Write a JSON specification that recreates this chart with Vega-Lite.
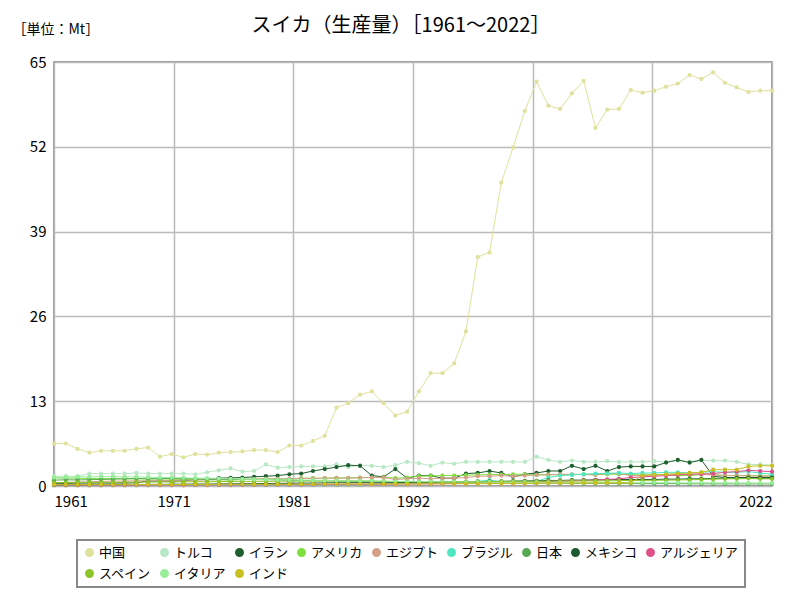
{
"$schema":"https://vega.github.io/schema/vega-lite/v6.json",
"width":718,"height":424,
"autosize":{"type":"none"},
"padding":{"left":54,"top":62,"right":28,"bottom":114},
"background":"white",
"title":{"text":"スイカ（生産量）［1961～2022］","font":"Noto Sans CJK JP","fontSize":20,"fontWeight":"normal","color":"#000","anchor":"middle","dx":-12,"dy":36,"offset":22},
"config":{"view":{"stroke":"#777","strokeWidth":1.5},"font":"Noto Sans CJK JP","legend":{"strokeWidth":2,"gridAlign":"none"}},
"datasets":{"d":[
{"c":"中国","y":1961,"v":6.5},{"c":"中国","y":1962,"v":6.5},{"c":"中国","y":1963,"v":5.7},{"c":"中国","y":1964,"v":5.1},{"c":"中国","y":1965,"v":5.4},{"c":"中国","y":1966,"v":5.4},{"c":"中国","y":1967,"v":5.4},{"c":"中国","y":1968,"v":5.7},{"c":"中国","y":1969,"v":5.9},{"c":"中国","y":1970,"v":4.5},
{"c":"中国","y":1971,"v":4.9},{"c":"中国","y":1972,"v":4.4},{"c":"中国","y":1973,"v":4.9},{"c":"中国","y":1974,"v":4.8},{"c":"中国","y":1975,"v":5.1},{"c":"中国","y":1976,"v":5.2},{"c":"中国","y":1977,"v":5.3},{"c":"中国","y":1978,"v":5.5},{"c":"中国","y":1979,"v":5.5},{"c":"中国","y":1980,"v":5.2},
{"c":"中国","y":1981,"v":6.2},{"c":"中国","y":1982,"v":6.2},{"c":"中国","y":1983,"v":6.9},{"c":"中国","y":1984,"v":7.7},{"c":"中国","y":1985,"v":12.0},{"c":"中国","y":1986,"v":12.7},{"c":"中国","y":1987,"v":14.0},{"c":"中国","y":1988,"v":14.5},{"c":"中国","y":1989,"v":12.7},{"c":"中国","y":1990,"v":10.8},
{"c":"中国","y":1991,"v":11.4},{"c":"中国","y":1992,"v":14.5},{"c":"中国","y":1993,"v":17.3},{"c":"中国","y":1994,"v":17.3},{"c":"中国","y":1995,"v":18.8},{"c":"中国","y":1996,"v":23.7},{"c":"中国","y":1997,"v":35.1},{"c":"中国","y":1998,"v":35.8},{"c":"中国","y":1999,"v":46.5},{"c":"中国","y":2000,"v":51.9},
{"c":"中国","y":2001,"v":57.5},{"c":"中国","y":2002,"v":62.0},{"c":"中国","y":2003,"v":58.3},{"c":"中国","y":2004,"v":57.8},{"c":"中国","y":2005,"v":60.2},{"c":"中国","y":2006,"v":62.1},{"c":"中国","y":2007,"v":54.9},{"c":"中国","y":2008,"v":57.7},{"c":"中国","y":2009,"v":57.8},{"c":"中国","y":2010,"v":60.7},
{"c":"中国","y":2011,"v":60.3},{"c":"中国","y":2012,"v":60.6},{"c":"中国","y":2013,"v":61.2},{"c":"中国","y":2014,"v":61.7},{"c":"中国","y":2015,"v":63.0},{"c":"中国","y":2016,"v":62.4},{"c":"中国","y":2017,"v":63.4},{"c":"中国","y":2018,"v":61.8},{"c":"中国","y":2019,"v":61.1},{"c":"中国","y":2020,"v":60.4},
{"c":"中国","y":2021,"v":60.6},{"c":"中国","y":2022,"v":60.6},
{"c":"トルコ","y":1961,"v":1.5},{"c":"トルコ","y":1962,"v":1.5},{"c":"トルコ","y":1963,"v":1.5},{"c":"トルコ","y":1964,"v":1.9},{"c":"トルコ","y":1965,"v":1.9},{"c":"トルコ","y":1966,"v":1.9},{"c":"トルコ","y":1967,"v":1.9},{"c":"トルコ","y":1968,"v":2.0},{"c":"トルコ","y":1969,"v":1.9},{"c":"トルコ","y":1970,"v":1.9},
{"c":"トルコ","y":1971,"v":1.9},{"c":"トルコ","y":1972,"v":1.9},{"c":"トルコ","y":1973,"v":1.8},{"c":"トルコ","y":1974,"v":2.1},{"c":"トルコ","y":1975,"v":2.4},{"c":"トルコ","y":1976,"v":2.7},{"c":"トルコ","y":1977,"v":2.2},{"c":"トルコ","y":1978,"v":2.3},{"c":"トルコ","y":1979,"v":3.3},{"c":"トルコ","y":1980,"v":2.8},
{"c":"トルコ","y":1981,"v":2.9},{"c":"トルコ","y":1982,"v":3.0},{"c":"トルコ","y":1983,"v":3.0},{"c":"トルコ","y":1984,"v":3.0},{"c":"トルコ","y":1985,"v":3.3},{"c":"トルコ","y":1986,"v":2.9},{"c":"トルコ","y":1987,"v":3.2},{"c":"トルコ","y":1988,"v":3.1},{"c":"トルコ","y":1989,"v":2.9},{"c":"トルコ","y":1990,"v":3.2},
{"c":"トルコ","y":1991,"v":3.7},{"c":"トルコ","y":1992,"v":3.5},{"c":"トルコ","y":1993,"v":3.1},{"c":"トルコ","y":1994,"v":3.6},{"c":"トルコ","y":1995,"v":3.4},{"c":"トルコ","y":1996,"v":3.7},{"c":"トルコ","y":1997,"v":3.7},{"c":"トルコ","y":1998,"v":3.7},{"c":"トルコ","y":1999,"v":3.7},{"c":"トルコ","y":2000,"v":3.7},
{"c":"トルコ","y":2001,"v":3.7},{"c":"トルコ","y":2002,"v":4.5},{"c":"トルコ","y":2003,"v":4.0},{"c":"トルコ","y":2004,"v":3.7},{"c":"トルコ","y":2005,"v":3.9},{"c":"トルコ","y":2006,"v":3.7},{"c":"トルコ","y":2007,"v":3.7},{"c":"トルコ","y":2008,"v":3.8},{"c":"トルコ","y":2009,"v":3.7},{"c":"トルコ","y":2010,"v":3.7},
{"c":"トルコ","y":2011,"v":3.7},{"c":"トルコ","y":2012,"v":3.8},{"c":"トルコ","y":2013,"v":3.7},{"c":"トルコ","y":2014,"v":3.9},{"c":"トルコ","y":2015,"v":3.7},{"c":"トルコ","y":2016,"v":3.9},{"c":"トルコ","y":2017,"v":3.9},{"c":"トルコ","y":2018,"v":3.9},{"c":"トルコ","y":2019,"v":3.7},{"c":"トルコ","y":2020,"v":3.3},
{"c":"トルコ","y":2021,"v":3.3},{"c":"トルコ","y":2022,"v":3.2},
{"c":"イラン","y":1961,"v":0.4},{"c":"イラン","y":1962,"v":0.4},{"c":"イラン","y":1963,"v":0.45},{"c":"イラン","y":1964,"v":0.45},{"c":"イラン","y":1965,"v":0.45},{"c":"イラン","y":1966,"v":0.45},{"c":"イラン","y":1967,"v":0.45},{"c":"イラン","y":1968,"v":0.5},{"c":"イラン","y":1969,"v":0.75},{"c":"イラン","y":1970,"v":0.75},
{"c":"イラン","y":1971,"v":0.75},{"c":"イラン","y":1972,"v":0.8},{"c":"イラン","y":1973,"v":1.0},{"c":"イラン","y":1974,"v":1.05},{"c":"イラン","y":1975,"v":1.2},{"c":"イラン","y":1976,"v":1.25},{"c":"イラン","y":1977,"v":1.3},{"c":"イラン","y":1978,"v":1.4},{"c":"イラン","y":1979,"v":1.5},{"c":"イラン","y":1980,"v":1.6},
{"c":"イラン","y":1981,"v":1.8},{"c":"イラン","y":1982,"v":1.9},{"c":"イラン","y":1983,"v":2.3},{"c":"イラン","y":1984,"v":2.6},{"c":"イラン","y":1985,"v":2.9},{"c":"イラン","y":1986,"v":3.2},{"c":"イラン","y":1987,"v":3.1},{"c":"イラン","y":1988,"v":1.6},{"c":"イラン","y":1989,"v":1.4},{"c":"イラン","y":1990,"v":2.6},
{"c":"イラン","y":1991,"v":1.2},{"c":"イラン","y":1992,"v":1.6},{"c":"イラン","y":1993,"v":1.6},{"c":"イラン","y":1994,"v":1.2},{"c":"イラン","y":1995,"v":1.2},{"c":"イラン","y":1996,"v":1.9},{"c":"イラン","y":1997,"v":2.0},{"c":"イラン","y":1998,"v":2.3},{"c":"イラン","y":1999,"v":2.0},{"c":"イラン","y":2000,"v":1.4},
{"c":"イラン","y":2001,"v":1.8},{"c":"イラン","y":2002,"v":2.0},{"c":"イラン","y":2003,"v":2.3},{"c":"イラン","y":2004,"v":2.3},{"c":"イラン","y":2005,"v":3.1},{"c":"イラン","y":2006,"v":2.6},{"c":"イラン","y":2007,"v":3.1},{"c":"イラン","y":2008,"v":2.3},{"c":"イラン","y":2009,"v":2.9},{"c":"イラン","y":2010,"v":3.0},
{"c":"イラン","y":2011,"v":3.0},{"c":"イラン","y":2012,"v":3.0},{"c":"イラン","y":2013,"v":3.6},{"c":"イラン","y":2014,"v":4.0},{"c":"イラン","y":2015,"v":3.6},{"c":"イラン","y":2016,"v":4.0},{"c":"イラン","y":2017,"v":1.5},{"c":"イラン","y":2018,"v":1.3},{"c":"イラン","y":2019,"v":1.3},{"c":"イラン","y":2020,"v":1.3},
{"c":"イラン","y":2021,"v":1.2},{"c":"イラン","y":2022,"v":1.2},
{"c":"アメリカ","y":1961,"v":1.25},{"c":"アメリカ","y":1962,"v":1.2},{"c":"アメリカ","y":1963,"v":1.2},{"c":"アメリカ","y":1964,"v":1.15},{"c":"アメリカ","y":1965,"v":1.15},{"c":"アメリカ","y":1966,"v":1.15},{"c":"アメリカ","y":1967,"v":1.1},{"c":"アメリカ","y":1968,"v":1.1},{"c":"アメリカ","y":1969,"v":1.1},{"c":"アメリカ","y":1970,"v":1.1},
{"c":"アメリカ","y":1971,"v":1.05},{"c":"アメリカ","y":1972,"v":1.0},{"c":"アメリカ","y":1973,"v":1.0},{"c":"アメリカ","y":1974,"v":0.95},{"c":"アメリカ","y":1975,"v":0.95},{"c":"アメリカ","y":1976,"v":0.9},{"c":"アメリカ","y":1977,"v":1.0},{"c":"アメリカ","y":1978,"v":1.05},{"c":"アメリカ","y":1979,"v":1.1},{"c":"アメリカ","y":1980,"v":1.1},
{"c":"アメリカ","y":1981,"v":1.1},{"c":"アメリカ","y":1982,"v":1.2},{"c":"アメリカ","y":1983,"v":1.2},{"c":"アメリカ","y":1984,"v":1.2},{"c":"アメリカ","y":1985,"v":1.25},{"c":"アメリカ","y":1986,"v":1.25},{"c":"アメリカ","y":1987,"v":1.3},{"c":"アメリカ","y":1988,"v":1.3},{"c":"アメリカ","y":1989,"v":1.35},{"c":"アメリカ","y":1990,"v":1.2},
{"c":"アメリカ","y":1991,"v":1.3},{"c":"アメリカ","y":1992,"v":1.5},{"c":"アメリカ","y":1993,"v":1.55},{"c":"アメリカ","y":1994,"v":1.6},{"c":"アメリカ","y":1995,"v":1.6},{"c":"アメリカ","y":1996,"v":1.65},{"c":"アメリカ","y":1997,"v":1.7},{"c":"アメリカ","y":1998,"v":1.75},{"c":"アメリカ","y":1999,"v":1.75},{"c":"アメリカ","y":2000,"v":1.8},
{"c":"アメリカ","y":2001,"v":1.8},{"c":"アメリカ","y":2002,"v":1.7},{"c":"アメリカ","y":2003,"v":1.75},{"c":"アメリカ","y":2004,"v":1.7},{"c":"アメリカ","y":2005,"v":1.75},{"c":"アメリカ","y":2006,"v":1.8},{"c":"アメリカ","y":2007,"v":1.75},{"c":"アメリカ","y":2008,"v":1.8},{"c":"アメリカ","y":2009,"v":1.8},{"c":"アメリカ","y":2010,"v":1.75},
{"c":"アメリカ","y":2011,"v":1.7},{"c":"アメリカ","y":2012,"v":1.75},{"c":"アメリカ","y":2013,"v":1.7},{"c":"アメリカ","y":2014,"v":1.6},{"c":"アメリカ","y":2015,"v":1.6},{"c":"アメリカ","y":2016,"v":1.75},{"c":"アメリカ","y":2017,"v":1.75},{"c":"アメリカ","y":2018,"v":1.6},{"c":"アメリカ","y":2019,"v":1.6},{"c":"アメリカ","y":2020,"v":1.6},
{"c":"アメリカ","y":2021,"v":1.6},{"c":"アメリカ","y":2022,"v":1.55},
{"c":"エジプト","y":1961,"v":0.5},{"c":"エジプト","y":1962,"v":0.55},{"c":"エジプト","y":1963,"v":0.6},{"c":"エジプト","y":1964,"v":0.65},{"c":"エジプト","y":1965,"v":0.7},{"c":"エジプト","y":1966,"v":0.75},{"c":"エジプト","y":1967,"v":0.75},{"c":"エジプト","y":1968,"v":0.8},{"c":"エジプト","y":1969,"v":0.8},{"c":"エジプト","y":1970,"v":0.85},
{"c":"エジプト","y":1971,"v":0.85},{"c":"エジプト","y":1972,"v":0.9},{"c":"エジプト","y":1973,"v":0.9},{"c":"エジプト","y":1974,"v":0.95},{"c":"エジプト","y":1975,"v":1.0},{"c":"エジプト","y":1976,"v":1.0},{"c":"エジプト","y":1977,"v":1.05},{"c":"エジプト","y":1978,"v":1.05},{"c":"エジプト","y":1979,"v":1.1},{"c":"エジプト","y":1980,"v":1.1},
{"c":"エジプト","y":1981,"v":1.1},{"c":"エジプト","y":1982,"v":1.15},{"c":"エジプト","y":1983,"v":1.15},{"c":"エジプト","y":1984,"v":1.2},{"c":"エジプト","y":1985,"v":1.2},{"c":"エジプト","y":1986,"v":1.2},{"c":"エジプト","y":1987,"v":1.25},{"c":"エジプト","y":1988,"v":1.3},{"c":"エジプト","y":1989,"v":1.3},{"c":"エジプト","y":1990,"v":1.0},
{"c":"エジプト","y":1991,"v":1.1},{"c":"エジプト","y":1992,"v":1.2},{"c":"エジプト","y":1993,"v":1.1},{"c":"エジプト","y":1994,"v":1.2},{"c":"エジプト","y":1995,"v":1.2},{"c":"エジプト","y":1996,"v":1.3},{"c":"エジプト","y":1997,"v":1.5},{"c":"エジプト","y":1998,"v":1.5},{"c":"エジプト","y":1999,"v":1.6},{"c":"エジプト","y":2000,"v":1.5},
{"c":"エジプト","y":2001,"v":1.6},{"c":"エジプト","y":2002,"v":1.7},{"c":"エジプト","y":2003,"v":1.7},{"c":"エジプト","y":2004,"v":1.8},{"c":"エジプト","y":2005,"v":1.8},{"c":"エジプト","y":2006,"v":1.75},{"c":"エジプト","y":2007,"v":1.7},{"c":"エジプト","y":2008,"v":1.9},{"c":"エジプト","y":2009,"v":1.9},{"c":"エジプト","y":2010,"v":1.6},
{"c":"エジプト","y":2011,"v":1.6},{"c":"エジプト","y":2012,"v":1.7},{"c":"エジプト","y":2013,"v":1.8},{"c":"エジプト","y":2014,"v":1.75},{"c":"エジプト","y":2015,"v":1.8},{"c":"エジプト","y":2016,"v":1.8},{"c":"エジプト","y":2017,"v":1.7},{"c":"エジプト","y":2018,"v":1.6},{"c":"エジプト","y":2019,"v":1.6},{"c":"エジプト","y":2020,"v":1.55},
{"c":"エジプト","y":2021,"v":1.5},{"c":"エジプト","y":2022,"v":1.5},
{"c":"ブラジル","y":1961,"v":0.1},{"c":"ブラジル","y":1962,"v":0.1},{"c":"ブラジル","y":1963,"v":0.1},{"c":"ブラジル","y":1964,"v":0.11},{"c":"ブラジル","y":1965,"v":0.11},{"c":"ブラジル","y":1966,"v":0.12},{"c":"ブラジル","y":1967,"v":0.12},{"c":"ブラジル","y":1968,"v":0.12},{"c":"ブラジル","y":1969,"v":0.13},{"c":"ブラジル","y":1970,"v":0.13},
{"c":"ブラジル","y":1971,"v":0.13},{"c":"ブラジル","y":1972,"v":0.14},{"c":"ブラジル","y":1973,"v":0.14},{"c":"ブラジル","y":1974,"v":0.15},{"c":"ブラジル","y":1975,"v":0.15},{"c":"ブラジル","y":1976,"v":0.15},{"c":"ブラジル","y":1977,"v":0.16},{"c":"ブラジル","y":1978,"v":0.16},{"c":"ブラジル","y":1979,"v":0.17},{"c":"ブラジル","y":1980,"v":0.17},
{"c":"ブラジル","y":1981,"v":0.18},{"c":"ブラジル","y":1982,"v":0.18},{"c":"ブラジル","y":1983,"v":0.19},{"c":"ブラジル","y":1984,"v":0.19},{"c":"ブラジル","y":1985,"v":0.2},{"c":"ブラジル","y":1986,"v":0.2},{"c":"ブラジル","y":1987,"v":0.21},{"c":"ブラジル","y":1988,"v":0.3},{"c":"ブラジル","y":1989,"v":0.35},{"c":"ブラジル","y":1990,"v":0.35},
{"c":"ブラジル","y":1991,"v":0.4},{"c":"ブラジル","y":1992,"v":0.4},{"c":"ブラジル","y":1993,"v":0.4},{"c":"ブラジル","y":1994,"v":0.4},{"c":"ブラジル","y":1995,"v":0.4},{"c":"ブラジル","y":1996,"v":0.45},{"c":"ブラジル","y":1997,"v":0.7},{"c":"ブラジル","y":1998,"v":0.9},{"c":"ブラジル","y":1999,"v":0.6},{"c":"ブラジル","y":2000,"v":0.6},
{"c":"ブラジル","y":2001,"v":0.65},{"c":"ブラジル","y":2002,"v":0.7},{"c":"ブラジル","y":2003,"v":1.3},{"c":"ブラジル","y":2004,"v":1.6},{"c":"ブラジル","y":2005,"v":1.7},{"c":"ブラジル","y":2006,"v":1.8},{"c":"ブラジル","y":2007,"v":1.9},{"c":"ブラジル","y":2008,"v":1.95},{"c":"ブラジル","y":2009,"v":2.0},{"c":"ブラジル","y":2010,"v":1.9},
{"c":"ブラジル","y":2011,"v":2.0},{"c":"ブラジル","y":2012,"v":2.0},{"c":"ブラジル","y":2013,"v":2.1},{"c":"ブラジル","y":2014,"v":2.1},{"c":"ブラジル","y":2015,"v":2.0},{"c":"ブラジル","y":2016,"v":2.1},{"c":"ブラジル","y":2017,"v":2.2},{"c":"ブラジル","y":2018,"v":2.1},{"c":"ブラジル","y":2019,"v":2.1},{"c":"ブラジル","y":2020,"v":2.2},
{"c":"ブラジル","y":2021,"v":2.0},{"c":"ブラジル","y":2022,"v":1.8},
{"c":"日本","y":1961,"v":0.9},{"c":"日本","y":1962,"v":0.95},{"c":"日本","y":1963,"v":0.93},{"c":"日本","y":1964,"v":0.97},{"c":"日本","y":1965,"v":1.0},{"c":"日本","y":1966,"v":1.05},{"c":"日本","y":1967,"v":1.1},{"c":"日本","y":1968,"v":1.15},{"c":"日本","y":1969,"v":1.1},{"c":"日本","y":1970,"v":1.1},
{"c":"日本","y":1971,"v":1.2},{"c":"日本","y":1972,"v":1.15},{"c":"日本","y":1973,"v":1.1},{"c":"日本","y":1974,"v":1.05},{"c":"日本","y":1975,"v":1.05},{"c":"日本","y":1976,"v":1.02},{"c":"日本","y":1977,"v":1.0},{"c":"日本","y":1978,"v":1.0},{"c":"日本","y":1979,"v":0.98},{"c":"日本","y":1980,"v":0.95},
{"c":"日本","y":1981,"v":0.9},{"c":"日本","y":1982,"v":0.85},{"c":"日本","y":1983,"v":0.82},{"c":"日本","y":1984,"v":0.8},{"c":"日本","y":1985,"v":0.77},{"c":"日本","y":1986,"v":0.75},{"c":"日本","y":1987,"v":0.73},{"c":"日本","y":1988,"v":0.7},{"c":"日本","y":1989,"v":0.68},{"c":"日本","y":1990,"v":0.66},
{"c":"日本","y":1991,"v":0.6},{"c":"日本","y":1992,"v":0.63},{"c":"日本","y":1993,"v":0.55},{"c":"日本","y":1994,"v":0.6},{"c":"日本","y":1995,"v":0.58},{"c":"日本","y":1996,"v":0.55},{"c":"日本","y":1997,"v":0.55},{"c":"日本","y":1998,"v":0.52},{"c":"日本","y":1999,"v":0.5},{"c":"日本","y":2000,"v":0.48},
{"c":"日本","y":2001,"v":0.47},{"c":"日本","y":2002,"v":0.46},{"c":"日本","y":2003,"v":0.42},{"c":"日本","y":2004,"v":0.42},{"c":"日本","y":2005,"v":0.41},{"c":"日本","y":2006,"v":0.4},{"c":"日本","y":2007,"v":0.4},{"c":"日本","y":2008,"v":0.4},{"c":"日本","y":2009,"v":0.38},{"c":"日本","y":2010,"v":0.37},
{"c":"日本","y":2011,"v":0.36},{"c":"日本","y":2012,"v":0.36},{"c":"日本","y":2013,"v":0.36},{"c":"日本","y":2014,"v":0.36},{"c":"日本","y":2015,"v":0.34},{"c":"日本","y":2016,"v":0.34},{"c":"日本","y":2017,"v":0.33},{"c":"日本","y":2018,"v":0.32},{"c":"日本","y":2019,"v":0.33},{"c":"日本","y":2020,"v":0.31},
{"c":"日本","y":2021,"v":0.32},{"c":"日本","y":2022,"v":0.31},
{"c":"メキシコ","y":1961,"v":0.15},{"c":"メキシコ","y":1962,"v":0.15},{"c":"メキシコ","y":1963,"v":0.17},{"c":"メキシコ","y":1964,"v":0.18},{"c":"メキシコ","y":1965,"v":0.2},{"c":"メキシコ","y":1966,"v":0.2},{"c":"メキシコ","y":1967,"v":0.22},{"c":"メキシコ","y":1968,"v":0.22},{"c":"メキシコ","y":1969,"v":0.25},{"c":"メキシコ","y":1970,"v":0.25},
{"c":"メキシコ","y":1971,"v":0.27},{"c":"メキシコ","y":1972,"v":0.28},{"c":"メキシコ","y":1973,"v":0.3},{"c":"メキシコ","y":1974,"v":0.3},{"c":"メキシコ","y":1975,"v":0.32},{"c":"メキシコ","y":1976,"v":0.33},{"c":"メキシコ","y":1977,"v":0.35},{"c":"メキシコ","y":1978,"v":0.35},{"c":"メキシコ","y":1979,"v":0.38},{"c":"メキシコ","y":1980,"v":0.4},
{"c":"メキシコ","y":1981,"v":0.42},{"c":"メキシコ","y":1982,"v":0.45},{"c":"メキシコ","y":1983,"v":0.45},{"c":"メキシコ","y":1984,"v":0.48},{"c":"メキシコ","y":1985,"v":0.5},{"c":"メキシコ","y":1986,"v":0.5},{"c":"メキシコ","y":1987,"v":0.52},{"c":"メキシコ","y":1988,"v":0.5},{"c":"メキシコ","y":1989,"v":0.5},{"c":"メキシコ","y":1990,"v":0.52},
{"c":"メキシコ","y":1991,"v":0.55},{"c":"メキシコ","y":1992,"v":0.55},{"c":"メキシコ","y":1993,"v":0.58},{"c":"メキシコ","y":1994,"v":0.6},{"c":"メキシコ","y":1995,"v":0.62},{"c":"メキシコ","y":1996,"v":0.65},{"c":"メキシコ","y":1997,"v":0.68},{"c":"メキシコ","y":1998,"v":0.7},{"c":"メキシコ","y":1999,"v":0.72},{"c":"メキシコ","y":2000,"v":0.75},
{"c":"メキシコ","y":2001,"v":0.78},{"c":"メキシコ","y":2002,"v":0.8},{"c":"メキシコ","y":2003,"v":0.85},{"c":"メキシコ","y":2004,"v":0.85},{"c":"メキシコ","y":2005,"v":0.9},{"c":"メキシコ","y":2006,"v":0.9},{"c":"メキシコ","y":2007,"v":0.95},{"c":"メキシコ","y":2008,"v":0.95},{"c":"メキシコ","y":2009,"v":1.0},{"c":"メキシコ","y":2010,"v":1.0},
{"c":"メキシコ","y":2011,"v":1.0},{"c":"メキシコ","y":2012,"v":1.0},{"c":"メキシコ","y":2013,"v":1.05},{"c":"メキシコ","y":2014,"v":1.05},{"c":"メキシコ","y":2015,"v":1.1},{"c":"メキシコ","y":2016,"v":1.1},{"c":"メキシコ","y":2017,"v":1.15},{"c":"メキシコ","y":2018,"v":1.2},{"c":"メキシコ","y":2019,"v":1.25},{"c":"メキシコ","y":2020,"v":1.3},
{"c":"メキシコ","y":2021,"v":1.3},{"c":"メキシコ","y":2022,"v":1.3},
{"c":"アルジェリア","y":1961,"v":0.15},{"c":"アルジェリア","y":1962,"v":0.15},{"c":"アルジェリア","y":1963,"v":0.14},{"c":"アルジェリア","y":1964,"v":0.14},{"c":"アルジェリア","y":1965,"v":0.13},{"c":"アルジェリア","y":1966,"v":0.13},{"c":"アルジェリア","y":1967,"v":0.13},{"c":"アルジェリア","y":1968,"v":0.14},{"c":"アルジェリア","y":1969,"v":0.14},{"c":"アルジェリア","y":1970,"v":0.15},
{"c":"アルジェリア","y":1971,"v":0.15},{"c":"アルジェリア","y":1972,"v":0.15},{"c":"アルジェリア","y":1973,"v":0.16},{"c":"アルジェリア","y":1974,"v":0.16},{"c":"アルジェリア","y":1975,"v":0.17},{"c":"アルジェリア","y":1976,"v":0.17},{"c":"アルジェリア","y":1977,"v":0.18},{"c":"アルジェリア","y":1978,"v":0.18},{"c":"アルジェリア","y":1979,"v":0.19},{"c":"アルジェリア","y":1980,"v":0.2},
{"c":"アルジェリア","y":1981,"v":0.2},{"c":"アルジェリア","y":1982,"v":0.21},{"c":"アルジェリア","y":1983,"v":0.22},{"c":"アルジェリア","y":1984,"v":0.23},{"c":"アルジェリア","y":1985,"v":0.24},{"c":"アルジェリア","y":1986,"v":0.25},{"c":"アルジェリア","y":1987,"v":0.26},{"c":"アルジェリア","y":1988,"v":0.27},{"c":"アルジェリア","y":1989,"v":0.28},{"c":"アルジェリア","y":1990,"v":0.3},
{"c":"アルジェリア","y":1991,"v":0.3},{"c":"アルジェリア","y":1992,"v":0.32},{"c":"アルジェリア","y":1993,"v":0.33},{"c":"アルジェリア","y":1994,"v":0.35},{"c":"アルジェリア","y":1995,"v":0.38},{"c":"アルジェリア","y":1996,"v":0.4},{"c":"アルジェリア","y":1997,"v":0.42},{"c":"アルジェリア","y":1998,"v":0.45},{"c":"アルジェリア","y":1999,"v":0.48},{"c":"アルジェリア","y":2000,"v":0.5},
{"c":"アルジェリア","y":2001,"v":0.55},{"c":"アルジェリア","y":2002,"v":0.6},{"c":"アルジェリア","y":2003,"v":0.7},{"c":"アルジェリア","y":2004,"v":0.75},{"c":"アルジェリア","y":2005,"v":0.8},{"c":"アルジェリア","y":2006,"v":0.85},{"c":"アルジェリア","y":2007,"v":0.9},{"c":"アルジェリア","y":2008,"v":1.0},{"c":"アルジェリア","y":2009,"v":1.1},{"c":"アルジェリア","y":2010,"v":1.3},
{"c":"アルジェリア","y":2011,"v":1.4},{"c":"アルジェリア","y":2012,"v":1.5},{"c":"アルジェリア","y":2013,"v":1.6},{"c":"アルジェリア","y":2014,"v":1.7},{"c":"アルジェリア","y":2015,"v":1.8},{"c":"アルジェリア","y":2016,"v":1.85},{"c":"アルジェリア","y":2017,"v":1.9},{"c":"アルジェリア","y":2018,"v":2.1},{"c":"アルジェリア","y":2019,"v":2.2},{"c":"アルジェリア","y":2020,"v":2.4},
{"c":"アルジェリア","y":2021,"v":2.3},{"c":"アルジェリア","y":2022,"v":2.2},
{"c":"スペイン","y":1961,"v":0.5},{"c":"スペイン","y":1962,"v":0.52},{"c":"スペイン","y":1963,"v":0.54},{"c":"スペイン","y":1964,"v":0.55},{"c":"スペイン","y":1965,"v":0.56},{"c":"スペイン","y":1966,"v":0.57},{"c":"スペイン","y":1967,"v":0.58},{"c":"スペイン","y":1968,"v":0.6},{"c":"スペイン","y":1969,"v":0.6},{"c":"スペイン","y":1970,"v":0.62},
{"c":"スペイン","y":1971,"v":0.63},{"c":"スペイン","y":1972,"v":0.65},{"c":"スペイン","y":1973,"v":0.65},{"c":"スペイン","y":1974,"v":0.66},{"c":"スペイン","y":1975,"v":0.68},{"c":"スペイン","y":1976,"v":0.7},{"c":"スペイン","y":1977,"v":0.7},{"c":"スペイン","y":1978,"v":0.72},{"c":"スペイン","y":1979,"v":0.72},{"c":"スペイン","y":1980,"v":0.74},
{"c":"スペイン","y":1981,"v":0.75},{"c":"スペイン","y":1982,"v":0.75},{"c":"スペイン","y":1983,"v":0.76},{"c":"スペイン","y":1984,"v":0.77},{"c":"スペイン","y":1985,"v":0.78},{"c":"スペイン","y":1986,"v":0.78},{"c":"スペイン","y":1987,"v":0.76},{"c":"スペイン","y":1988,"v":0.75},{"c":"スペイン","y":1989,"v":0.7},{"c":"スペイン","y":1990,"v":0.68},
{"c":"スペイン","y":1991,"v":0.66},{"c":"スペイン","y":1992,"v":0.64},{"c":"スペイン","y":1993,"v":0.63},{"c":"スペイン","y":1994,"v":0.62},{"c":"スペイン","y":1995,"v":0.62},{"c":"スペイン","y":1996,"v":0.64},{"c":"スペイン","y":1997,"v":0.66},{"c":"スペイン","y":1998,"v":0.68},{"c":"スペイン","y":1999,"v":0.7},{"c":"スペイン","y":2000,"v":0.72},
{"c":"スペイン","y":2001,"v":0.72},{"c":"スペイン","y":2002,"v":0.74},{"c":"スペイン","y":2003,"v":0.75},{"c":"スペイン","y":2004,"v":0.76},{"c":"スペイン","y":2005,"v":0.77},{"c":"スペイン","y":2006,"v":0.78},{"c":"スペイン","y":2007,"v":0.78},{"c":"スペイン","y":2008,"v":0.8},{"c":"スペイン","y":2009,"v":0.82},{"c":"スペイン","y":2010,"v":0.85},
{"c":"スペイン","y":2011,"v":0.86},{"c":"スペイン","y":2012,"v":0.88},{"c":"スペイン","y":2013,"v":0.9},{"c":"スペイン","y":2014,"v":0.92},{"c":"スペイン","y":2015,"v":0.95},{"c":"スペイン","y":2016,"v":1.0},{"c":"スペイン","y":2017,"v":1.05},{"c":"スペイン","y":2018,"v":1.1},{"c":"スペイン","y":2019,"v":1.1},{"c":"スペイン","y":2020,"v":1.15},
{"c":"スペイン","y":2021,"v":1.1},{"c":"スペイン","y":2022,"v":1.1},
{"c":"イタリア","y":1961,"v":1.3},{"c":"イタリア","y":1962,"v":1.35},{"c":"イタリア","y":1963,"v":1.4},{"c":"イタリア","y":1964,"v":1.4},{"c":"イタリア","y":1965,"v":1.45},{"c":"イタリア","y":1966,"v":1.45},{"c":"イタリア","y":1967,"v":1.4},{"c":"イタリア","y":1968,"v":1.4},{"c":"イタリア","y":1969,"v":1.35},{"c":"イタリア","y":1970,"v":1.3},
{"c":"イタリア","y":1971,"v":1.3},{"c":"イタリア","y":1972,"v":1.25},{"c":"イタリア","y":1973,"v":1.2},{"c":"イタリア","y":1974,"v":1.2},{"c":"イタリア","y":1975,"v":1.15},{"c":"イタリア","y":1976,"v":1.1},{"c":"イタリア","y":1977,"v":1.05},{"c":"イタリア","y":1978,"v":1.0},{"c":"イタリア","y":1979,"v":1.0},{"c":"イタリア","y":1980,"v":0.95},
{"c":"イタリア","y":1981,"v":0.95},{"c":"イタリア","y":1982,"v":0.9},{"c":"イタリア","y":1983,"v":0.9},{"c":"イタリア","y":1984,"v":0.85},{"c":"イタリア","y":1985,"v":0.85},{"c":"イタリア","y":1986,"v":0.8},{"c":"イタリア","y":1987,"v":0.8},{"c":"イタリア","y":1988,"v":0.75},{"c":"イタリア","y":1989,"v":0.75},{"c":"イタリア","y":1990,"v":0.7},
{"c":"イタリア","y":1991,"v":0.7},{"c":"イタリア","y":1992,"v":0.68},{"c":"イタリア","y":1993,"v":0.66},{"c":"イタリア","y":1994,"v":0.64},{"c":"イタリア","y":1995,"v":0.62},{"c":"イタリア","y":1996,"v":0.6},{"c":"イタリア","y":1997,"v":0.6},{"c":"イタリア","y":1998,"v":0.58},{"c":"イタリア","y":1999,"v":0.56},{"c":"イタリア","y":2000,"v":0.55},
{"c":"イタリア","y":2001,"v":0.55},{"c":"イタリア","y":2002,"v":0.54},{"c":"イタリア","y":2003,"v":0.53},{"c":"イタリア","y":2004,"v":0.52},{"c":"イタリア","y":2005,"v":0.52},{"c":"イタリア","y":2006,"v":0.5},{"c":"イタリア","y":2007,"v":0.5},{"c":"イタリア","y":2008,"v":0.5},{"c":"イタリア","y":2009,"v":0.5},{"c":"イタリア","y":2010,"v":0.5},
{"c":"イタリア","y":2011,"v":0.5},{"c":"イタリア","y":2012,"v":0.5},{"c":"イタリア","y":2013,"v":0.5},{"c":"イタリア","y":2014,"v":0.5},{"c":"イタリア","y":2015,"v":0.48},{"c":"イタリア","y":2016,"v":0.48},{"c":"イタリア","y":2017,"v":0.48},{"c":"イタリア","y":2018,"v":0.47},{"c":"イタリア","y":2019,"v":0.47},{"c":"イタリア","y":2020,"v":0.46},
{"c":"イタリア","y":2021,"v":0.45},{"c":"イタリア","y":2022,"v":0.45},
{"c":"インド","y":1961,"v":0.2},{"c":"インド","y":1962,"v":0.2},{"c":"インド","y":1963,"v":0.2},{"c":"インド","y":1964,"v":0.21},{"c":"インド","y":1965,"v":0.21},{"c":"インド","y":1966,"v":0.21},{"c":"インド","y":1967,"v":0.22},{"c":"インド","y":1968,"v":0.22},{"c":"インド","y":1969,"v":0.22},{"c":"インド","y":1970,"v":0.23},
{"c":"インド","y":1971,"v":0.23},{"c":"インド","y":1972,"v":0.23},{"c":"インド","y":1973,"v":0.24},{"c":"インド","y":1974,"v":0.24},{"c":"インド","y":1975,"v":0.25},{"c":"インド","y":1976,"v":0.25},{"c":"インド","y":1977,"v":0.25},{"c":"インド","y":1978,"v":0.26},{"c":"インド","y":1979,"v":0.26},{"c":"インド","y":1980,"v":0.27},
{"c":"インド","y":1981,"v":0.27},{"c":"インド","y":1982,"v":0.28},{"c":"インド","y":1983,"v":0.28},{"c":"インド","y":1984,"v":0.29},{"c":"インド","y":1985,"v":0.29},{"c":"インド","y":1986,"v":0.3},{"c":"インド","y":1987,"v":0.3},{"c":"インド","y":1988,"v":0.3},{"c":"インド","y":1989,"v":0.31},{"c":"インド","y":1990,"v":0.31},
{"c":"インド","y":1991,"v":0.32},{"c":"インド","y":1992,"v":0.33},{"c":"インド","y":1993,"v":0.34},{"c":"インド","y":1994,"v":0.35},{"c":"インド","y":1995,"v":0.35},{"c":"インド","y":1996,"v":0.36},{"c":"インド","y":1997,"v":0.37},{"c":"インド","y":1998,"v":0.38},{"c":"インド","y":1999,"v":0.39},{"c":"インド","y":2000,"v":0.4},
{"c":"インド","y":2001,"v":0.4},{"c":"インド","y":2002,"v":0.42},{"c":"インド","y":2003,"v":0.43},{"c":"インド","y":2004,"v":0.44},{"c":"インド","y":2005,"v":0.45},{"c":"インド","y":2006,"v":0.46},{"c":"インド","y":2007,"v":0.47},{"c":"インド","y":2008,"v":0.48},{"c":"インド","y":2009,"v":0.5},{"c":"インド","y":2010,"v":0.5},
{"c":"インド","y":2011,"v":1.6},{"c":"インド","y":2012,"v":1.7},{"c":"インド","y":2013,"v":1.8},{"c":"インド","y":2014,"v":1.9},{"c":"インド","y":2015,"v":2.0},{"c":"インド","y":2016,"v":2.1},{"c":"インド","y":2017,"v":2.5},{"c":"インド","y":2018,"v":2.5},{"c":"インド","y":2019,"v":2.5},{"c":"インド","y":2020,"v":3.0},
{"c":"インド","y":2021,"v":3.1},{"c":"インド","y":2022,"v":3.1}
]},
"data":{"name":"d"},
"mark":{"type":"line","strokeWidth":1,"point":{"filled":true,"size":18,"opacity":1}},
"encoding":{
"x":{"field":"y","type":"quantitative","scale":{"domain":[1961,2022],"nice":false,"zero":false},
"axis":{"title":null,"values":[1961,1971.1667,1981.3333,1991.5,2001.6667,2011.8333,2022],"format":".0f","labelFontSize":15,"labelColor":"#000","labelPadding":8,"domain":false,"ticks":false,"grid":true,"gridColor":"#bbb","gridWidth":1.5,"labelFont":"Noto Sans CJK JP"}},
"y":{"field":"v","type":"quantitative","scale":{"domain":[0,65],"nice":false},
"axis":{"title":"［単位：Mt］","titleAngle":0,"titleX":-42,"titleY":-33,"titleAlign":"left","titleBaseline":"middle","titleFontSize":14,"titleFontWeight":"normal","titleColor":"#000","titleFont":"Noto Sans CJK JP","values":[0,13,26,39,52,65],"labelFontSize":15,"labelColor":"#000","labelPadding":8,"domain":false,"ticks":false,"grid":true,"gridColor":"#bbb","gridWidth":1.5,"labelFont":"Noto Sans CJK JP"}},
"color":{"field":"c","type":"nominal","sort":["中国","トルコ","イラン","アメリカ","エジプト","ブラジル","日本","メキシコ","アルジェリア","スペイン","イタリア","インド"],
"scale":{"domain":["中国","トルコ","イラン","アメリカ","エジプト","ブラジル","日本","メキシコ","アルジェリア","スペイン","イタリア","インド"],"range":["#dfe19c","#b9e8c4","#1f5e2e","#7ee03c","#d4a088","#4de8c0","#5aa856","#1e5a30","#e0508a","#8cc42a","#98ee98","#c8c020"]},
"legend":{"title":null,"orient":"none","legendX":23,"legendY":478,"direction":"horizontal","columns":9,"gridAlign":"none","symbolType":"circle","symbolSize":55,"labelFontSize":13,"labelColor":"#000","labelFont":"Noto Sans CJK JP","strokeColor":"#888","padding":6,"columnPadding":5,"rowPadding":6,"labelOffset":3}}
}
}
